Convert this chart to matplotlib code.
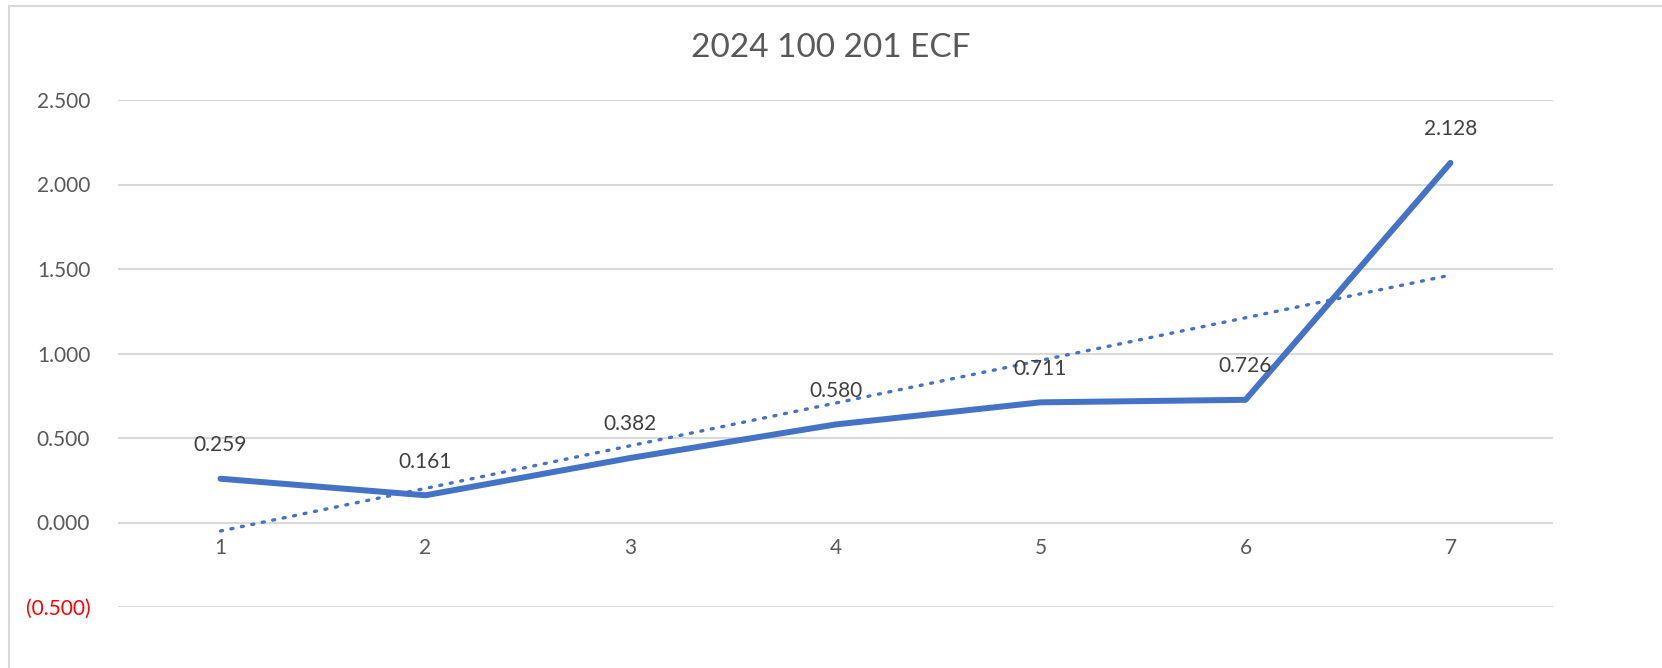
import numpy as np
import matplotlib
matplotlib.use("Agg")
import matplotlib.pyplot as plt
from matplotlib.patches import Rectangle
from matplotlib.ticker import FuncFormatter

# donnees du graphique
categories = [1, 2, 3, 4, 5, 6, 7]
valeurs = [0.259, 0.161, 0.382, 0.580, 0.711, 0.726, 2.128]
titre = "2024 100 201 ECF"

plt.rcParams['font.family'] = ['Lato', 'DejaVu Sans']

bleu = "#4472C4"
gris_texte = "#595959"
gris_grille = "#D9D9D9"

fig = plt.figure(figsize=(16.62, 6.68), dpi=100)
ax = fig.add_axes([118 / 1662, 1 - 607 / 668, (1553 - 118) / 1662, (607 - 100) / 668])

x = np.array(categories)
y = np.array(valeurs)

# courbe principale
ax.plot(x, y, color=bleu, lw=4.3, solid_capstyle='round', solid_joinstyle='round', zorder=3)

# tendance lineaire (comme dans Excel)
pente, origine = np.polyfit(x, y, 1)
ax.plot(x, pente * x + origine, color=bleu, lw=2.4, linestyle=(0, (0.6, 2.6)),
        dash_capstyle='round', zorder=2)

# etiquettes de donnees
for xi, yi in zip(x, y):
    ax.annotate(f"{yi:.3f}", (xi, yi), xytext=(0, 17), textcoords='offset points',
                ha='center', va='bottom', fontsize=15, color="#404040")

ax.set_xlim(0.5, 7.5)
ax.set_ylim(-0.5, 2.5)
ax.set_yticks(np.arange(-0.5, 2.51, 0.5))
ax.yaxis.grid(True, color=gris_grille, lw=1.5)
ax.set_axisbelow(True)


def format_y(v, pos):
    if v < 0:
        return f"({abs(v):.3f})"
    return f"{v:.3f}"


ax.yaxis.set_major_formatter(FuncFormatter(format_y))
ax.tick_params(axis='y', length=0, pad=20, labelsize=15, labelcolor=gris_texte)
for lbl in ax.get_yticklabels():
    if lbl.get_text().startswith("("):
        lbl.set_color("red")

# etiquettes de categories sous la ligne zero
ax.set_xticks([])
for c in categories:
    ax.text(c, -0.09, str(c), ha='center', va='top', fontsize=15, color=gris_texte)

for s in ax.spines.values():
    s.set_visible(False)

fig.text(0.5, 1 - 48 / 668, titre, ha='center', va='center', fontsize=24, color=gris_texte)

# bordure du cadre du graphique
fig.patches.append(Rectangle((9 / 1662, -0.1), 1.2, 1 - 6 / 668 + 0.1, transform=fig.transFigure,
                             fill=False, edgecolor=gris_grille, lw=1.5))

fig.savefig("out.png", dpi=100)
